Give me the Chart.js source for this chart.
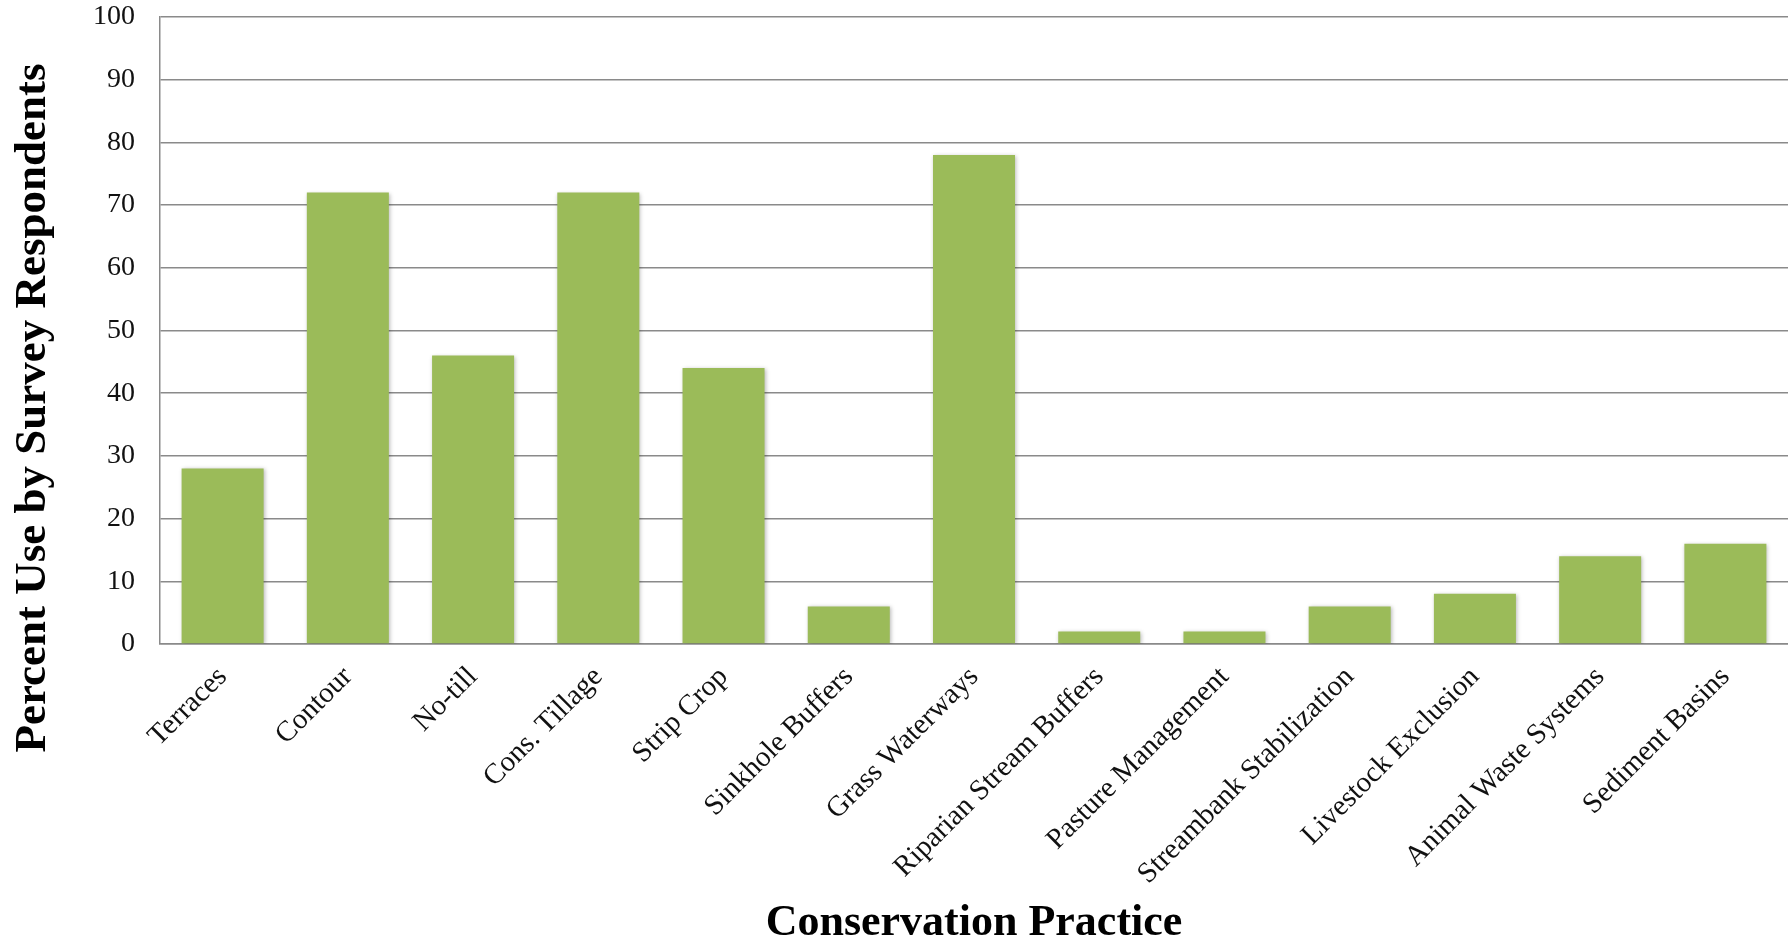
<!DOCTYPE html>
<html>
<head>
<meta charset="utf-8">
<script src="https://cdn.jsdelivr.net/npm/chart.js@4/dist/chart.umd.min.js"></script>
<style>
  html, body { margin: 0; padding: 0; background: #fff; overflow: hidden; }
  #wrap { position: relative; width: 1788px; height: 950px; }
</style>
</head>
<body>
<div id="wrap"><canvas id="chart"></canvas></div>
<script>
'use strict';

const practices = [
    'Terraces', 'Contour', 'No-till', 'Cons. Tillage', 'Strip Crop',
    'Sinkhole Buffers', 'Grass Waterways', 'Riparian Stream Buffers',
    'Pasture Management', 'Streambank Stabilization', 'Livestock Exclusion',
    'Animal Waste Systems', 'Sediment Basins'
];
const percentUse = [28, 72, 46, 72, 44, 6, 78, 2, 2, 6, 8, 14, 16];
const yTicks = [0, 10, 20, 30, 40, 50, 60, 70, 80, 90, 100];
const yTitle = 'Percent Use by Survey Respondents';

const SERIF = "'Liberation Serif', 'Times New Roman', serif";

// soft drop shadow under the bars, like the office chart
const barShadow = {
    id: 'barShadow',
    beforeDatasetsDraw(chart) {
        const ctx = chart.ctx;
        ctx.save();
        ctx.shadowColor = 'rgba(0,0,0,0.28)';
        ctx.shadowBlur = 4;
        ctx.shadowOffsetX = 1;
        ctx.shadowOffsetY = 1;
    },
    afterDatasetsDraw(chart) { chart.ctx.restore(); }
};

// y title sits lower than the plot centre in the original, so draw it by hand
const yTitlePlugin = {
    id: 'yTitlePlugin',
    afterDraw(chart) {
        const ctx = chart.ctx;
        ctx.save();
        ctx.translate(33, 408);
        ctx.rotate(-Math.PI / 2);
        ctx.font = 'bold 45px ' + SERIF;
        ctx.fillStyle = '#000';
        ctx.textAlign = 'center';
        ctx.textBaseline = 'middle';
        ctx.fillText(yTitle, 0, 0);
        ctx.restore();
    }
};

new Chart(document.getElementById('chart'), {
    type: 'bar',
    data: {
        labels: practices,
        datasets: [{
            data: percentUse,
            backgroundColor: '#9BBB59',
            borderWidth: 0,
            barPercentage: 0.655,
            categoryPercentage: 1,
        }]
    },
    options: {
        responsive: true, maintainAspectRatio: false,
        animation: false,
        layout: { padding: 0 },
        plugins: { legend: { display: false }, tooltip: { enabled: false } },
        scales: {
            x: {
                grid: { display: false, drawTicks: false },
                border: { color: '#8a8a8a', width: 1.5 },
                ticks: {
                    color: '#111', autoSkip: false,
                    minRotation: 45, maxRotation: 45, padding: 16,
                    font: { family: SERIF, size: 29 }
                },
                title: {
                    display: true, text: 'Conservation Practice', color: '#000',
                    font: { family: SERIF, size: 44, weight: 'bold' },
                    padding: { top: 0, bottom: 0 }
                },
                afterFit: s => { s.height = 950 - 644; }
            },
            y: {
                min: 0, max: 100,
                afterBuildTicks: s => { s.ticks = yTicks.map(v => ({ value: v })); },
                grid: { color: '#8a8a8a', lineWidth: 1.5, drawTicks: false },
                border: { color: '#8a8a8a', width: 1.5 },
                ticks: {
                    color: '#111', padding: 25,
                    font: { family: SERIF, size: 28 }
                },
                afterFit: s => { s.width = 160; s.paddingTop = 17; s.paddingBottom = 0; }
            }
        }
    },
    plugins: [barShadow, yTitlePlugin]
});
</script>
</body>
</html>
